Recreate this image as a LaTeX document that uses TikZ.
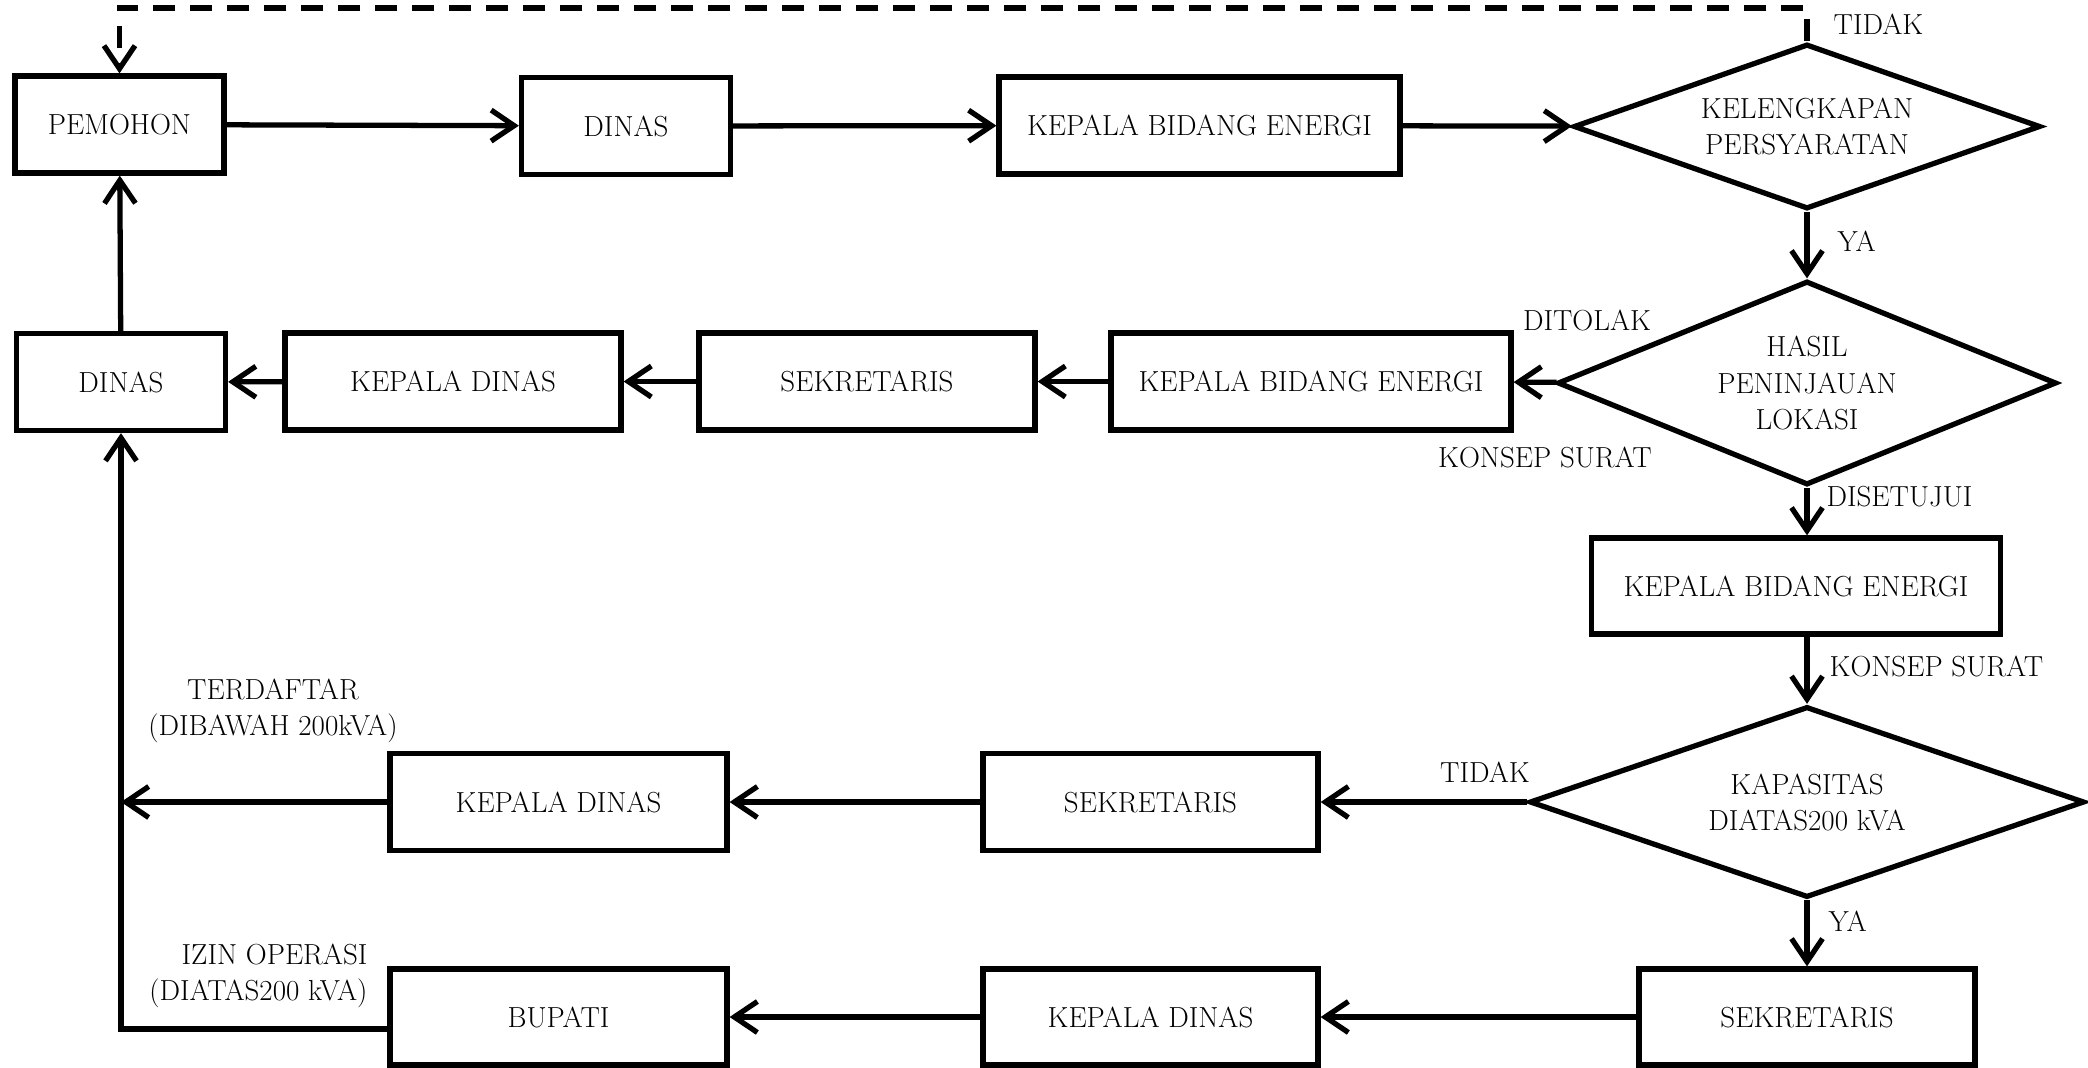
\documentclass[tikz,border=0pt]{standalone}
\usepackage{fontspec}
\usetikzlibrary{shapes.geometric,arrows.meta}

\begin{document}
\begin{tikzpicture}[line width=3pt,>={Straight Barb[length=4.6mm,width=6.2mm]},
        font=\fontsize{16.5}{20.5}\selectfont,
        kotak/.style={draw,rectangle,minimum height=1.94cm,inner sep=0pt},
        keputusan/.style={draw,diamond,inner sep=0pt,align=center},
        ket/.style={inner sep=0pt,align=center}]
            \useasboundingbox (0,0) rectangle (41.76,-21.36);
            % baris atas
            \node[kotak,minimum width=4.18cm] (pemohon) at (2.39,-2.49) {PEMOHON};
            \node[kotak,minimum width=4.18cm] (dinasA) at (12.52,-2.52) {DINAS};
            \node[kotak,minimum width=8.02cm] (kbeA) at (23.99,-2.51) {KEPALA BIDANG ENERGI};
            \node[keputusan,aspect=2.8,minimum width=9.34cm,minimum height=3.3cm] (syarat) at (36.14,-2.53) {KELENGKAPAN\\PERSYARATAN};
            % baris kedua
            \node[keputusan,aspect=2.45,minimum width=9.98cm,minimum height=4.08cm] (hasil) at (36.14,-7.66) {HASIL\\PENINJAUAN\\LOKASI};
            \node[kotak,minimum width=8cm] (kbeB) at (26.22,-7.63) {KEPALA BIDANG ENERGI};
            \node[kotak,minimum width=6.72cm] (sekrA) at (17.34,-7.63) {SEKRETARIS};
            \node[kotak,minimum width=6.72cm] (kadisA) at (9.06,-7.63) {KEPALA DINAS};
            \node[kotak,minimum width=4.18cm] (dinasB) at (2.42,-7.64) {DINAS};
            % kolom kanan
            \node[kotak,minimum width=8.18cm,minimum height=1.92cm] (kbeC) at (35.92,-11.72) {KEPALA BIDANG ENERGI};
            \node[keputusan,aspect=2.9,minimum width=11.1cm,minimum height=3.82cm] (kapasitas) at (36.14,-16.04) {KAPASITAS\\DIATAS200 kVA};
            \node[kotak,minimum width=6.7cm] (sekrB) at (23.01,-16.04) {SEKRETARIS};
            \node[kotak,minimum width=6.74cm] (kadisB) at (11.17,-16.04) {KEPALA DINAS};
            \node[kotak,minimum width=6.72cm,minimum height=1.92cm] (sekrC) at (36.14,-20.34) {SEKRETARIS};
            \node[kotak,minimum width=6.7cm,minimum height=1.92cm] (kadisC) at (23.01,-20.34) {KEPALA DINAS};
            \node[kotak,minimum width=6.74cm,minimum height=1.92cm] (bupati) at (11.17,-20.34) {BUPATI};
            % keterangan
            \node[ket,anchor=west] (tidakA) at (36.62,-0.48) {TIDAK};
            \node[ket,anchor=west] (yaA) at (36.7,-4.82) {YA};
            \node[ket] (ditolak) at (31.74,-6.4) {DITOLAK};
            \node[ket] (konsepA) at (30.9,-9.14) {KONSEP SURAT};
            \node[ket,anchor=west] (setuju) at (36.48,-9.94) {DISETUJUI};
            \node[ket,anchor=west] (konsepB) at (36.54,-13.32) {KONSEP SURAT};
            \node[ket] (tidakB) at (29.7,-15.44) {TIDAK};
            \node[ket,anchor=west] (yaB) at (36.52,-18.42) {YA};
            \node[ket] (terdaftar) at (5.46,-14.22) {TERDAFTAR\\(DIBAWAH 200kVA)};
            \node[ket,align=right,anchor=east] (izin) at (7.4,-19.51) {IZIN OPERASI\\(DIATAS200 kVA)};
            % alur
            \coordinate (atas) at (36.14,-0.16);
            \coordinate (keluar) at ([yshift=-0.24cm]bupati.west);
            \draw[->] (pemohon) -- (dinasA);
            \draw[->] (dinasA) -- (kbeA);
            \draw[->] (kbeA) -- (syarat);
            \draw[->,dash pattern=on 4.4mm off 3mm] (syarat.north) -- (atas) -| (pemohon.north);
            \draw[->] (syarat) -- (hasil);
            \draw[->] (hasil) -- (kbeB);
            \draw[->] (kbeB) -- (sekrA);
            \draw[->] (sekrA) -- (kadisA);
            \draw[->] (kadisA) -- (dinasB);
            \draw[->] (dinasB) -- (pemohon);
            \draw[->] (hasil.south) -- (hasil.south |- kbeC.north);
            \draw[->] (kapasitas.north |- kbeC.south) -- (kapasitas.north);
            \draw[->] (kapasitas) -- (sekrB);
            \draw[->] (sekrB) -- (kadisB);
            \draw[->] (kadisB) -- (kadisB.west -| dinasB.south);
            \draw[->] (kapasitas) -- (sekrC);
            \draw[->] (sekrC) -- (kadisC);
            \draw[->] (kadisC) -- (bupati);
            \draw[->] (keluar) -| (dinasB.south);
        \end{tikzpicture}
\end{document}
